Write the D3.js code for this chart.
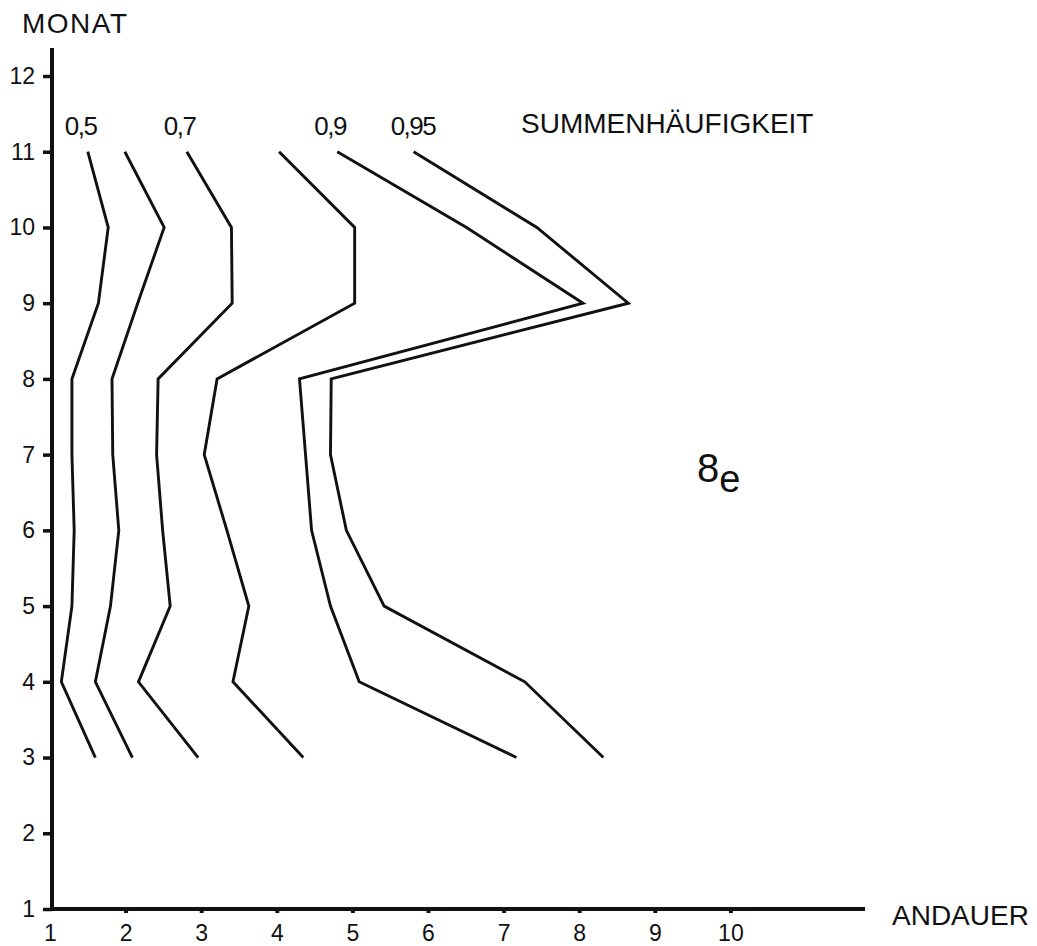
<!DOCTYPE html>
<html><head><meta charset="utf-8">
<script src="https://cdn.jsdelivr.net/npm/d3@7"></script>
<style>
html,body{margin:0;padding:0;background:#fff;}
text{font-family:"Liberation Sans",Arial,sans-serif;fill:#111;}
</style></head>
<body><svg id="c" width="1037" height="946"></svg>
<script>
// Data
const months = [3,4,5,6,7,8,9,10,11];
const q050 = [1.60,1.15,1.29,1.32,1.29,1.29,1.64,1.77,1.50];
const q060 = [2.09,1.60,1.80,1.91,1.83,1.82,2.16,2.51,1.99];
const q070 = [2.96,2.17,2.59,2.49,2.41,2.43,3.41,3.40,2.81];
const q080 = [4.35,3.42,3.63,3.34,3.04,3.21,5.03,5.03,4.03];
const q090 = [7.17,5.09,4.71,4.46,4.38,4.30,8.05,6.51,4.80];
const q095 = [8.32,7.28,5.42,4.92,4.71,4.72,8.65,7.44,5.81];
const seriesValues = [q050,q060,q070,q080,q090,q095];
const seriesLabels = ["0,5","","0,7","","0,9","0,95"];
const xTicks = [1,2,3,4,5,6,7,8,9,10];
const yTicks = [1,2,3,4,5,6,7,8,9,10,11,12];

const svg = d3.select("#c");
const x = d3.scaleLinear().domain([1,10]).range([50,730.4]);
const y = d3.scaleLinear().domain([1,12]).range([909,76]);

// axes
const yAxis = d3.axisLeft(y).tickValues(yTicks).tickSize(9).tickPadding(8).tickFormat(d3.format("d"));
const gy = svg.append("g").attr("transform","translate(52,0)").call(yAxis);
gy.select(".domain").remove();
gy.selectAll(".tick line").attr("stroke","#111").attr("stroke-width",3.5);
gy.selectAll(".tick text").style("font-size","23px");

const xAxis = d3.axisBottom(x).tickValues(xTicks).tickSize(4).tickPadding(12).tickFormat(d3.format("d"));
const gx = svg.append("g").attr("transform","translate(0,909)").call(xAxis);
gx.select(".domain").remove();
gx.selectAll(".tick line").attr("stroke","#111").attr("stroke-width",4);
gx.selectAll(".tick text").style("font-size","23px");
gx.selectAll(".tick").filter(d=>d===1).select("line").remove();

// axis lines
svg.append("line").attr("x1",52).attr("x2",52).attr("y1",48).attr("y2",911)
  .attr("stroke","#111").attr("stroke-width",4);
svg.append("line").attr("x1",50).attr("x2",865).attr("y1",909).attr("y2",909)
  .attr("stroke","#111").attr("stroke-width",4);

// lines
const line = d3.line().x(d=>x(d[1])).y(d=>y(d[0]));
seriesValues.forEach((vals,i)=>{
  svg.append("path").datum(months.map((m,j)=>[m,vals[j]]))
    .attr("d",line).attr("fill","none").attr("stroke","#111")
    .attr("stroke-width",2.9).attr("stroke-linejoin","miter");
  if(seriesLabels[i]){
    svg.append("text").attr("x",x(vals[vals.length-1])-23).attr("y",135)
      .style("font-size","26px").style("letter-spacing","-1.5px").text(seriesLabels[i]);
  }
});

// titles
svg.append("text").attr("x",22).attr("y",33).style("font-size","28px").style("letter-spacing","1.5px").text("MONAT");
svg.append("text").attr("x",521).attr("y",133).style("font-size","28px").text("SUMMENHÄUFIGKEIT");
svg.append("text").attr("x",892).attr("y",925).style("font-size","28px").text("ANDAUER");
const t8 = svg.append("text").attr("x",697).attr("y",482).style("font-size","40px");
t8.append("tspan").text("8");
t8.append("tspan").attr("dy",10).style("font-size","38px").text("e");
</script></body></html>
